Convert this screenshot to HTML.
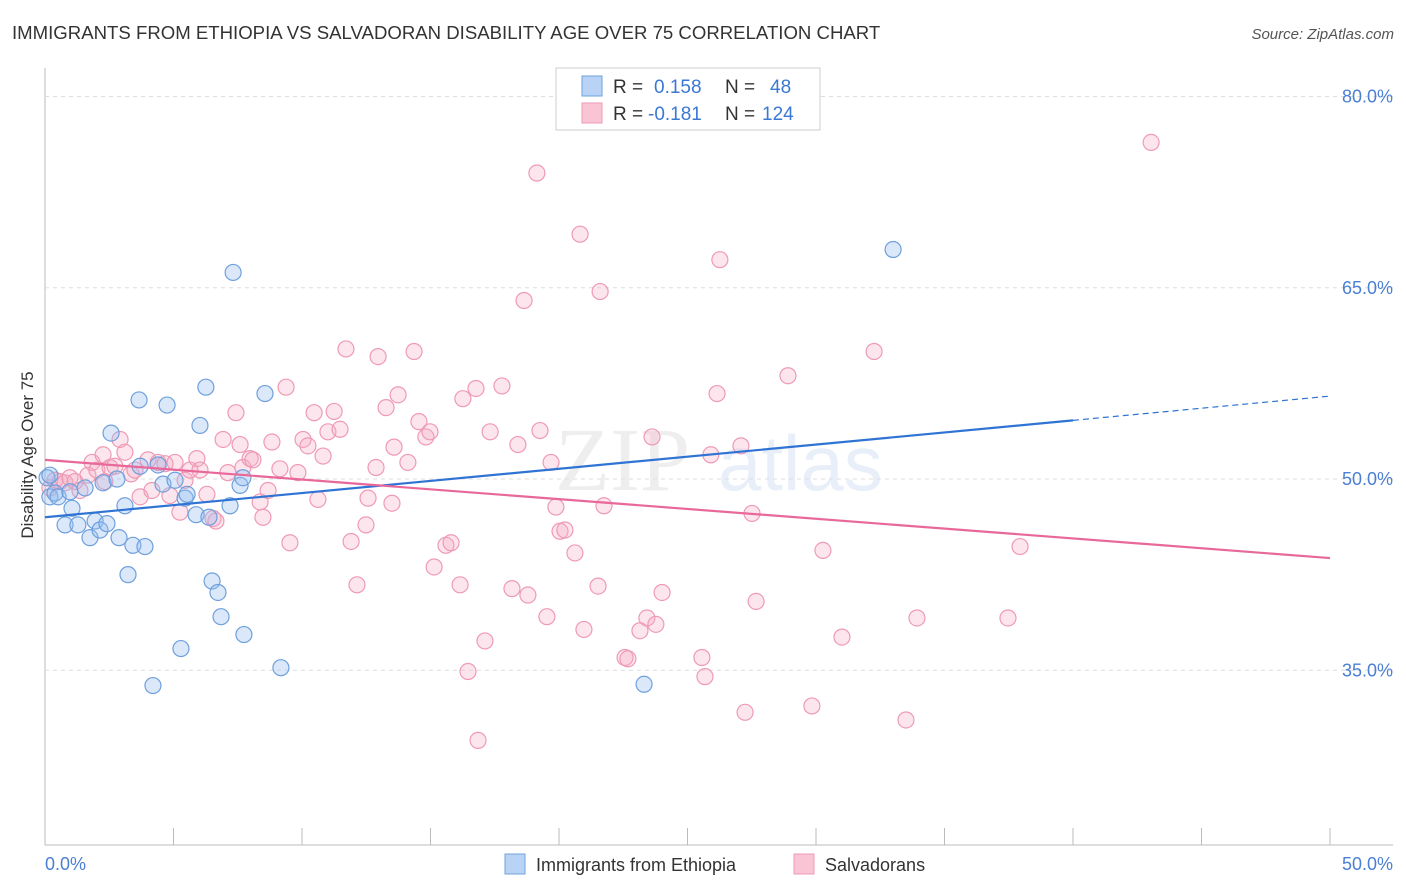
<!DOCTYPE html>
<html><head><meta charset="utf-8"><style>
body{margin:0;background:#fff;font-family:"Liberation Sans",sans-serif;}
svg{display:block}
</style></head><body>
<svg id="chart" width="1406" height="892">
<text x="12" y="39" font-size="18.6" fill="#333">IMMIGRANTS FROM ETHIOPIA VS SALVADORAN DISABILITY AGE OVER 75 CORRELATION CHART</text>
<text x="1394" y="39" font-size="15" fill="#555" font-style="italic" text-anchor="end">Source: ZipAtlas.com</text>
<text x="33" y="455" font-size="17" fill="#333" text-anchor="middle" transform="rotate(-90 33 455)">Disability Age Over 75</text>
<g id="grid"></g>
<g><text x="555" y="490" font-size="90" font-family="Liberation Serif,serif" fill="#e3e3e3" opacity="0.6">ZIP</text><text x="718" y="490" font-size="78" fill="#d3e0f2" opacity="0.5">atlas</text></g>
<g id="pts"></g>
<g id="lines"></g>
<g>
<rect x="556" y="68" width="264" height="62" fill="#fff" stroke="#ccc"/>
<rect x="582" y="76" width="20" height="20" fill="#b8d3f5" stroke="#6fa0dc"/>
<rect x="582" y="103" width="20" height="20" fill="#f9c5d5" stroke="#ef9ab5"/>
<text x="613" y="93" font-size="19" fill="#333">R = </text><text x="654" y="93" font-size="19" fill="#3a78d4">0.158</text>
<text x="725" y="93" font-size="19" fill="#333">N = </text><text x="770" y="93" font-size="19" fill="#3a78d4">48</text>
<text x="613" y="120" font-size="19" fill="#333">R = </text><text x="648" y="120" font-size="19" fill="#3a78d4">-0.181</text>
<text x="725" y="120" font-size="19" fill="#333">N = </text><text x="762" y="120" font-size="19" fill="#3a78d4">124</text>
</g>
<g>
<rect x="505" y="854" width="20" height="20" fill="#b8d3f5" stroke="#6fa0dc"/>
<text x="536" y="871" font-size="18" fill="#333">Immigrants from Ethiopia</text>
<rect x="794" y="854" width="20" height="20" fill="#f9c5d5" stroke="#ef9ab5"/>
<text x="825" y="871" font-size="18" fill="#333">Salvadorans</text>
</g>
</svg>
<script>
const xTicks=[0,5,10,15,20,25,30,35,40,45,50];
const yTicks=[35,50,65,80];
const blueX=[0.08,0.19,0.39,0.51,0.78,1.05,0.97,1.28,1.56,1.75,1.95,2.14,2.26,2.41,2.57,2.80,2.88,3.11,3.23,3.42,3.66,3.70,3.89,4.20,4.40,4.59,4.75,5.06,5.29,5.45,5.53,5.88,6.03,6.26,6.38,6.50,6.73,6.85,7.20,7.32,7.59,7.74,7.70,8.56,9.18,23.31,33.0,0.19];
const blueY=[50.1,48.6,48.9,48.6,46.4,47.7,49.0,46.4,49.3,45.4,46.7,46.0,49.7,46.5,53.6,50.0,45.4,47.9,42.5,44.8,56.2,51.0,44.7,33.8,51.1,49.6,55.8,49.9,36.7,48.5,48.8,47.2,54.2,57.2,47.0,42.0,41.1,39.2,47.9,66.2,49.5,37.8,50.1,56.7,35.2,33.9,68.0,50.3];
const pinkX=[0.19,0.39,0.58,0.78,0.97,1.17,1.36,1.67,1.83,2.02,2.26,2.33,2.53,2.72,2.92,3.11,3.35,3.50,3.70,4.01,4.16,4.40,4.67,4.86,5.06,5.25,5.45,5.64,5.91,6.03,6.30,6.54,6.65,6.93,7.12,7.43,7.59,7.70,7.98,8.09,8.37,8.48,8.68,8.83,9.14,9.38,9.53,9.84,10.04,10.23,10.47,10.62,10.82,11.01,11.25,11.48,11.71,11.91,12.14,12.49,12.57,12.88,12.96,13.27,13.50,13.58,13.74,14.12,14.36,14.55,14.82,14.98,15.14,15.60,15.80,16.15,16.26,16.46,16.77,16.85,17.12,17.32,17.78,18.17,18.40,18.64,18.79,19.14,19.26,19.53,19.69,19.88,20.04,20.23,20.62,20.82,20.97,21.52,21.60,21.75,22.57,22.68,23.15,23.42,23.62,23.77,24.01,25.56,25.68,25.91,26.26,26.15,27.08,27.24,27.51,27.67,28.91,29.84,30.27,31.01,32.26,33.50,33.93,37.47,37.94,43.04];
const pinkY=[49.3,49.9,49.8,49.7,50.1,49.8,49.1,50.3,51.3,50.7,51.9,49.8,50.9,51.0,53.1,52.1,50.4,50.7,48.6,51.5,49.1,51.3,51.2,48.7,51.3,47.4,49.9,50.7,51.6,50.7,48.8,46.9,46.7,53.1,50.5,55.2,52.7,50.9,51.6,51.5,48.2,47.0,49.1,52.9,50.8,57.2,45.0,50.5,53.1,52.6,55.2,48.4,51.8,53.7,55.3,53.9,60.2,45.1,41.7,46.4,48.5,50.9,59.6,55.6,48.1,52.5,56.6,51.3,60.0,54.5,53.3,53.7,43.1,44.8,45.0,41.7,56.3,34.9,57.1,29.5,37.3,53.7,57.3,41.4,52.7,64.0,40.9,74.0,53.8,39.2,51.3,47.8,45.9,46.0,44.2,69.2,38.2,41.6,64.7,47.9,36.0,35.9,38.1,39.1,53.3,38.6,41.1,36.0,34.5,51.9,67.2,56.7,52.6,31.7,47.3,40.4,58.1,32.2,44.4,37.6,60.0,31.1,39.1,39.1,44.7,76.4];
const blueTrend=[47.0,54.6,56.5]; // at x=0, x=40, x=50
const pinkTrend=[51.5,43.8]; // at x=0, x=50
const NS='http://www.w3.org/2000/svg';
const X=v=>45+v*25.7, Y=v=>479-(v-50)*12.75;
function mk(t,a,p){const e=document.createElementNS(NS,t);for(const k in a)e.setAttribute(k,a[k]);p.appendChild(e);return e;}
const grid=document.getElementById('grid');
const ax=mk('line',{x1:45,y1:68,x2:45,y2:845,stroke:'#bbb'},grid);


const bx=mk('line',{x1:45,y1:845,x2:1393,y2:845,stroke:'#bbb'},grid);


yTicks.forEach(t=>{
 const g=mk('line',{x1:45,y1:Y(t),x2:1393,y2:Y(t),stroke:'#ddd','stroke-dasharray':'4,4'},grid);
 
 
 const l=mk('text',{x:1393,y:Y(t)+6,'font-size':18,fill:'#4a7fd4','text-anchor':'end'},grid);
 l.textContent=t.toFixed(1)+'%';
 
 
});
xTicks.forEach(t=>{
 const k=mk('line',{x1:X(t),y1:828,x2:X(t),y2:845,stroke:'#bbb'},grid);
 
 
});
[[0,'start'],[50,'end']].forEach(([t,a])=>{
 const l=mk('text',{x:t===0?45:1393,y:870,'font-size':18,fill:'#4a7fd4','text-anchor':a},grid);
 l.textContent=t.toFixed(1)+'%';
 
 
});
const pts=document.getElementById('pts');
pinkX.forEach((x,i)=>{
 const c=mk('circle',{cx:X(x),cy:Y(pinkY[i]),r:8,fill:'rgba(245,170,195,0.3)',stroke:'#ef9ab5','stroke-width':1.2},pts);
 
 
});
blueX.forEach((x,i)=>{
 const c=mk('circle',{cx:X(x),cy:Y(blueY[i]),r:8,fill:'rgba(150,190,240,0.35)',stroke:'#6fa0dc','stroke-width':1.2},pts);
 
 
});
const lines=document.getElementById('lines');
const b1=mk('line',{x1:X(0),y1:Y(blueTrend[0]),x2:X(40),y2:Y(blueTrend[1]),stroke:'#2f74d4','stroke-width':2.2},lines);


const b2=mk('line',{x1:X(40),y1:Y(blueTrend[1]),x2:X(50),y2:Y(blueTrend[2]),stroke:'#2f74d4','stroke-width':1.2,'stroke-dasharray':'6,4'},lines);


const p1=mk('line',{x1:X(0),y1:Y(pinkTrend[0]),x2:X(50),y2:Y(pinkTrend[1]),stroke:'#e8689a','stroke-width':2.2},lines);


</script>
</body></html>
